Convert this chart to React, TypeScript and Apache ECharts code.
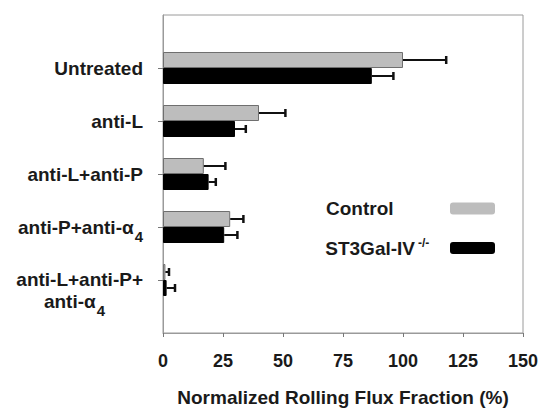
import React, { useEffect, useRef } from 'react';
import * as echarts from 'echarts';

const categories = ['Untreated', 'anti-L', 'anti-L+anti-P', 'anti-P+anti-α4', 'anti-L+anti-P+\nanti-α4'];
const controlMean = [100, 40, 17, 28, 1];
const controlErr = [18, 11, 9, 5.5, 1.5];
const knockoutMean = [87, 30, 19, 25.5, 1.5];
const knockoutErr = [9, 4.5, 3, 5.5, 3.5];
const xTicks = { min: 0, max: 150, interval: 25 };
const seriesNames = ['Control', 'ST3Gal-IV -/-'];
const xTitle = 'Normalized Rolling Flux Fraction (%)';

const FONT = '"Liberation Sans", Arial, Helvetica, sans-serif';

export default function App() {
  const ref = useRef<HTMLDivElement>(null);
  useEffect(() => {
    document.body.style.margin = '0';
    const chart = echarts.init(ref.current!, null, { renderer: 'svg' });
    const axisCats: any[] = [
      '',
      ...categories.map((c) =>
        c.includes('\n') ? { value: c, textStyle: { padding: [20, 0, 0, 0] } } : c
      ),
      '',
    ];
    const pad = (arr: number[]) => ['-', ...arr, '-'];
    const errData = (mean: number[], err: number[]) =>
      mean.map((m, i) => [m, m + err[i], i + 1]);

    const errRender = (offset: number) => (params: any, api: any) => {
      const y = api.value(2);
      const p0 = api.coord([api.value(0), y]);
      const p1 = api.coord([api.value(1), y]);
      const cy = p0[1] + offset;
      return {
        type: 'group',
        children: [
          { type: 'line', shape: { x1: p0[0], y1: cy, x2: p1[0], y2: cy }, style: { stroke: '#111', lineWidth: 2 } },
          { type: 'line', shape: { x1: p1[0], y1: cy - 4, x2: p1[0], y2: cy + 4 }, style: { stroke: '#111', lineWidth: 2.5 } },
        ],
      };
    };

    const labelFmt = (v: string) => {
      if (!v) return '';
      const lines = v.split('\n');
      return lines
        .map((ln) => {
          if (ln.includes('α4')) {
            return `{n|${ln.replace('α4', '')}}{a|α}{s|4}` + (lines.length > 1 ? '{p| }' : '');
          }
          return `{n|${ln}}`;
        })
        .join('\n');
    };

    const txt = { fontFamily: FONT, fontWeight: 'bold' as const, color: '#1a1a1a' };

    chart.setOption({
      animation: false,
      backgroundColor: '#fff',
      grid: {
        left: 163, right: 16, top: 15, bottom: 75,
        outerBoundsMode: 'none', containLabel: false,
        show: true, borderColor: '#9a9a9a', borderWidth: 1,
      },
      legend: {
        orient: 'vertical',
        align: 'right',
        right: 44,
        top: 199,
        padding: 0,
        itemWidth: 45,
        itemHeight: 12,
        itemGap: 19,
        data: seriesNames,
        itemStyle: { borderWidth: 0 },
        formatter: (name: string) =>
          name === 'Control' ? `{w|Control}` : `{b|ST3Gal-IV}{sup|-/-}`,
        textStyle: {
          ...txt,
          fontSize: 19,
          rich: {
            w: { ...txt, fontSize: 19, width: 119, align: 'left', lineHeight: 22 },
            b: { ...txt, fontSize: 19, align: 'left', lineHeight: 22 },
            sup: { ...txt, fontSize: 12, align: 'left', width: 27, padding: [0, 0, 10, 3] },
          },
        },
      },
      xAxis: {
        type: 'value',
        min: xTicks.min,
        max: xTicks.max,
        interval: xTicks.interval,
        splitLine: { show: false },
        axisLine: { show: true, lineStyle: { color: '#9a9a9a', width: 1 } },
        axisTick: { show: true, length: 4, lineStyle: { color: '#777' } },
        axisLabel: { ...txt, fontSize: 18, margin: 19 },
        name: xTitle,
        nameLocation: 'middle',
        nameGap: 55,
        nameTextStyle: { ...txt, fontSize: 19 },
      },
      yAxis: {
        type: 'category',
        data: axisCats,
        inverse: true,
        boundaryGap: false,
        axisLine: { show: true, lineStyle: { color: '#9a9a9a', width: 1 } },
        axisTick: {
          show: true,
          length: 5,
          interval: (i: number) => i > 0 && i < axisCats.length - 1,
          lineStyle: { color: '#777' },
        },
        axisLabel: {
          interval: 0,
          margin: 20,
          formatter: labelFmt,
          rich: {
            n: { ...txt, fontSize: 19, lineHeight: 22 },
            a: { ...txt, fontSize: 19, lineHeight: 22 },
            s: { ...txt, fontSize: 15, lineHeight: 22, padding: [18, 0, 0, 1] },
            p: { ...txt, fontSize: 19, width: 38 },
          },
        },
        splitLine: { show: false },
      },
      series: [
        {
          name: seriesNames[0],
          type: 'bar',
          data: pad(controlMean),
          barWidth: 16,
          barGap: '0%',
          itemStyle: { color: '#bdbdbd', borderColor: '#6f6f6f', borderWidth: 1 },
        },
        {
          name: seriesNames[1],
          type: 'bar',
          data: pad(knockoutMean),
          barWidth: 16,
          barGap: '0%',
          itemStyle: { color: '#000', borderColor: '#000', borderWidth: 1 },
        },
        {
          type: 'custom',
          renderItem: errRender(-8),
          data: errData(controlMean, controlErr),
          encode: { x: [0, 1], y: 2 },
          z: 3,
          silent: true,
        },
        {
          type: 'custom',
          renderItem: errRender(8),
          data: errData(knockoutMean, knockoutErr),
          encode: { x: [0, 1], y: 2 },
          z: 3,
          silent: true,
        },
      ],
    });
    return () => chart.dispose();
  }, []);
  return <div ref={ref} style={{ width: 539, height: 408 }} />;
}
